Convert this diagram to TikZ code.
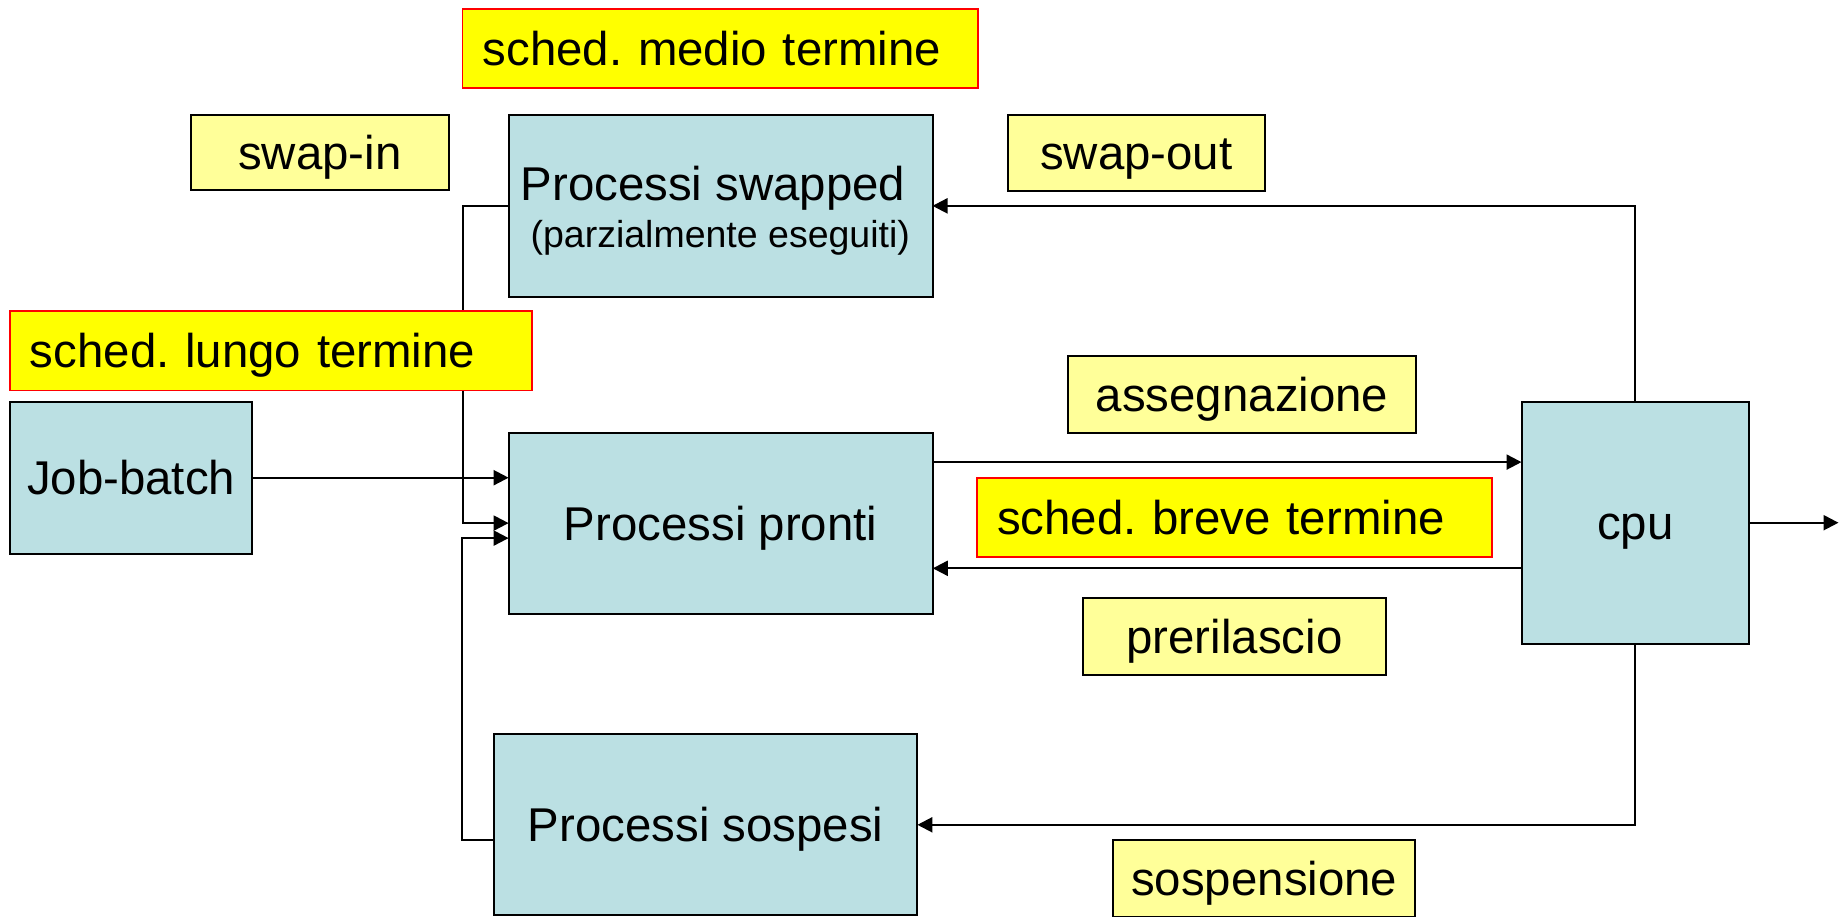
\documentclass[tikz,border=0pt]{standalone}
\usepackage{fontspec}
\setmainfont{Liberation Sans}
\usetikzlibrary{arrows.meta,calc}
\definecolor{tealbox}{HTML}{BBE0E3}
\definecolor{lyel}{HTML}{FFFF99}
\definecolor{byel}{HTML}{FFFF00}
\newcommand\bigfnt{\fontsize{47.4pt}{56pt}\selectfont}
\newcommand\smallfnt{\fontsize{37.5pt}{44pt}\selectfont}
\frenchspacing
\begin{document}
\begin{tikzpicture}[x=1pt,y=-1pt,
  box/.style={draw=black, line width=2pt, inner sep=0pt, outer sep=0pt, anchor=north west,
    font=\bigfnt, text height=34pt, text depth=0pt},
  proc/.style={box, fill=tealbox},
  lab/.style={box, fill=lyel},
  sched/.style={box, fill=byel, draw=red, line width=1.6pt, align=left, inner xsep=20pt},
  txt/.style={inner sep=0pt, anchor=base},
  arr/.style={line width=2.2pt, -{Triangle[length=15pt,width=15pt]}}]
\useasboundingbox (0,0) rectangle (1839,916);

% process boxes
\node[proc, minimum width=423.9pt, minimum height=181.7pt] (swapped) at (508.6,115) {};
\node[txt, font=\bigfnt] (swt) at (713,200) {Processi swapped};
\node[txt, font=\smallfnt] (sws) at (720.3,247) {(parzialmente eseguiti)};
\node[proc, minimum width=242.4pt, minimum height=151.8pt] (job) at (9.9,401.8) {Job-batch};
\node[proc, minimum width=424.2pt, minimum height=181.2pt] (pronti) at (508.6,432.5) {Processi pronti};
\node[proc, minimum width=423.5pt, minimum height=181pt] (sospesi) at (493.9,734.3) {Processi sospesi};
\node[proc, minimum width=227.5pt, minimum height=242pt] (cpu) at (1521.5,401.7) {cpu};

% connectors
\draw[arr] (swapped.west) -- ++(-45.3,0) |- (pronti.west);
\draw[arr] (job.east) -- (job.east -| pronti.west);
\coordinate (s1) at ($(sospesi.west)+(0,15.5)$);
\coordinate (s2) at ($(pronti.west)+(0,15)$);
\draw[arr] (s1) -- ++(-32.2,0) |- (s2);
\coordinate (a1) at ($(pronti.north east)+(0,29.6)$);
\draw[arr] (a1) -- (a1 -| cpu.west);
\coordinate (p1) at ($(cpu.west)+(0,45.6)$);
\draw[arr] (p1) -- (p1 -| pronti.east);
\draw[arr] (cpu.north) |- (swapped.east);
\draw[arr] (cpu.south) |- (sospesi.east);
\coordinate (out) at (1838.5,522.7);
\draw[arr] (cpu.east) -- (cpu.east -| out);

% labels
\node[sched, text width=475.4pt, minimum height=79.1pt] (medio) at (462.6,8.9) {sched. medio termine};
\node[sched, text width=481.9pt, minimum height=79.7pt] (lungo) at (9.9,310.7) {sched. lungo termine};
\node[sched, text width=474.8pt, minimum height=79pt] (breve) at (977,477.7) {sched. breve termine};
\node[lab, minimum width=257.8pt, minimum height=75.8pt] (swapin) at (191,114.6) {swap-in};
\node[lab, minimum width=257.1pt, minimum height=76pt] (swapout) at (1007.7,114.7) {swap-out};
\node[lab, minimum width=348.4pt, minimum height=76.4pt] (assegn) at (1067.9,356.3) {assegnazione};
\node[lab, minimum width=302.5pt, minimum height=76.4pt] (preril) at (1083.2,598.3) {prerilascio};
\node[lab, minimum width=302pt, minimum height=76.4pt] (sospens) at (1113.3,840.3) {sospensione};
\end{tikzpicture}
\end{document}
